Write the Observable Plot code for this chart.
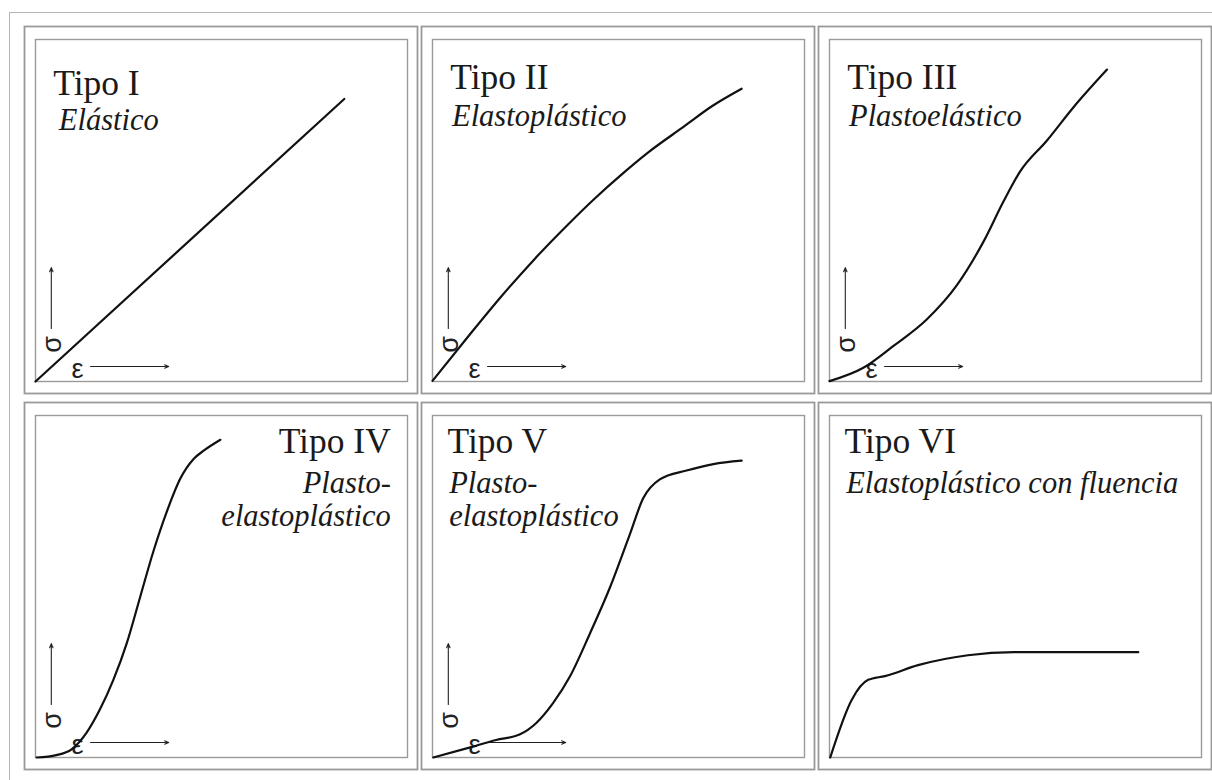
<!DOCTYPE html>
<html>
<head>
<meta charset="utf-8">
<script src="https://cdn.jsdelivr.net/npm/d3@7"></script>
<script src="https://cdn.jsdelivr.net/npm/@observablehq/plot@0.6"></script>
<style>
  html, body { margin: 0; padding: 0; background: #fff; overflow: hidden; }
  #page { position: relative; width: 1212px; height: 780px; }
  #chart svg { display: block; }
  /* light page border that runs off the right and bottom edges */
  #marco {
    position: absolute; left: 9px; top: 11.5px; width: 1400px; height: 1000px;
    border-left: 1.5px solid #b3b3b3; border-top: 1.5px solid #b3b3b3;
    pointer-events: none;
  }
</style>
</head>
<body>
<div id="page"><div id="chart"></div><div id="marco"></div></div>
<script>
// Panel titles and behaviour names
const tipos = ["Tipo I", "Tipo II", "Tipo III", "Tipo IV", "Tipo V", "Tipo VI"];
const comportamientos = [
  "Elástico",
  "Elastoplástico",
  "Plastoelástico",
  "Plasto-\nelastoplástico",
  "Plasto-\nelastoplástico",
  "Elastoplástico con fluencia"
];

// Stress–strain curves, strain (ε) and stress (σ) in % of the panel range
const deformacionI   = [0, 83.0];
const esfuerzoI      = [0, 82.6];

const deformacionII  = [0, 9.7, 18.6, 27.6, 36.5, 43.7, 50.8, 58.0, 67.9, 75.0, 83.1];
const esfuerzoII     = [0.2, 13.3, 25.0, 36.0, 46.0, 53.6, 60.5, 67.0, 74.8, 80.4, 85.6];

const deformacionIII = [0, 9.1, 17.2, 26.2, 34.2, 41.4, 46.8, 51.3, 58.4, 65.6, 74.6];
const esfuerzoIII    = [0.1, 4.0, 10.4, 18.2, 28.1, 40.9, 52.7, 61.5, 70.4, 80.2, 91.2];

const deformacionIV  = [0.3, 5.6, 9.7, 13.7, 17.3, 20.9, 24.5, 28.1, 31.7, 35.3, 38.9, 42.5, 45.2, 49.7];
const esfuerzoIV     = [0, 0.7, 2.4, 7.2, 14.0, 22.6, 33.3, 46.8, 60.3, 71.9, 81.5, 87.3, 89.7, 92.9];

const deformacionV   = [0.2, 9.9, 17.1, 23.4, 27.9, 32.4, 36.9, 42.3, 47.7, 53.0, 56.6, 61.1, 68.3, 75.5, 83.1];
const esfuerzoV      = [0, 2.9, 5.1, 6.7, 10.1, 15.9, 23.6, 36.2, 49.7, 65.1, 75.7, 81.3, 83.9, 85.8, 86.8];

const deformacionVI  = [0.2, 6.0, 10.4, 14.9, 23.8, 37.2, 49.6, 83.0];
const esfuerzoVI     = [0, 16.9, 22.7, 23.8, 27.0, 29.9, 30.8, 30.8];

const deformaciones = [deformacionI, deformacionII, deformacionIII, deformacionIV, deformacionV, deformacionVI];
const esfuerzos     = [esfuerzoI, esfuerzoII, esfuerzoIII, esfuerzoIV, esfuerzoV, esfuerzoVI];

// Long table for the line mark: one row per point, with its facet cell
const curvas = deformaciones.flatMap((xs, p) =>
  xs.map((e, k) => ({panel: p, col: p % 3, fila: Math.floor(p / 3), e, s: esfuerzos[p][k]}))
);

const paneles = tipos.map((tipo, p) => ({
  panel: p, col: p % 3, fila: Math.floor(p / 3), tipo, comp: comportamientos[p]
}));
const sel = (...ids) => paneles.filter(d => ids.includes(d.panel));
const conEjes = sel(0, 1, 2, 3, 4);

const fc = {fx: "col", fy: "fila"};
const serif = {fontFamily: "'Liberation Serif', 'Times New Roman', serif", fill: "#1a1a1a"};
const titulo = {...fc, ...serif, text: "tipo", fontSize: 35.5, lineAnchor: "bottom"};
const subtitulo = {...fc, ...serif, text: "comp", fontSize: 30.5, fontStyle: "italic"};
const sans = {...fc, fontFamily: "'Liberation Sans', Arial, sans-serif", fontSize: 27, fill: "#222",
  frameAnchor: "bottom-left", textAnchor: "middle", lineAnchor: "middle"};
const flecha = {...fc, stroke: "#222", strokeWidth: 1.1, headLength: 6, headAngle: 45};

const chart = Plot.plot({
  width: 1212,
  height: 780,
  marginLeft: 35,
  marginRight: 11,
  marginTop: 39,
  marginBottom: 22,
  fx: {domain: [0, 1, 2], paddingInner: 0.0642, paddingOuter: 0, axis: null},
  fy: {domain: [0, 1], paddingInner: 0.0903, paddingOuter: 0, axis: null},
  x: {domain: [0, 100], axis: null},
  y: {domain: [0, 100], axis: null},
  marks: [
    // double panel border
    Plot.frame({stroke: "#999", strokeWidth: 1.8, insetLeft: -11, insetRight: -10, insetTop: -13, insetBottom: -12}),
    Plot.frame({stroke: "#9a9a9a", strokeWidth: 1.4}),

    // σ / ε direction hints
    Plot.arrow(conEjes, {...flecha, x1: 4.25, x2: 4.25, y1: 15.5, y2: 33.3}),
    Plot.arrow(conEjes, {...flecha, x1: 14.8, x2: 35.8, y1: 4.4, y2: 4.4}),
    Plot.text(conEjes, {...sans, text: () => "σ", dx: 16.7, dy: -37, rotate: -90}),
    Plot.text(conEjes, {...sans, text: () => "ε", dx: 42, dy: -12}),

    // curves
    Plot.line(curvas, {...fc, x: "e", y: "s", z: "panel", curve: "monotone-x",
      stroke: "#111", strokeWidth: 2.2, strokeLinejoin: "round", strokeLinecap: "round"}),

    // titles
    Plot.text(sel(0), {...titulo, frameAnchor: "top-left", textAnchor: "start", dx: 17.7, dy: 55}),
    Plot.text(sel(1, 2), {...titulo, frameAnchor: "top-left", textAnchor: "start", dx: 17.7, dy: 49.3}),
    Plot.text(sel(4, 5), {...titulo, frameAnchor: "top-left", textAnchor: "start", dx: 15, dy: 37.8}),
    Plot.text(sel(3), {...titulo, frameAnchor: "top-right", textAnchor: "end", dx: -16.7, dy: 37.8}),

    // behaviour names
    Plot.text(sel(0), {...subtitulo, frameAnchor: "top-left", textAnchor: "start", lineAnchor: "bottom", dx: 23.3, dy: 90.5}),
    Plot.text(sel(1, 2), {...subtitulo, frameAnchor: "top-left", textAnchor: "start", lineAnchor: "bottom", dx: 19.5, dy: 86}),
    Plot.text(sel(4, 5), {...subtitulo, frameAnchor: "top-left", textAnchor: "start", lineAnchor: "top", lineHeight: 1.1, dx: 16.7, dy: 53.3}),
    Plot.text(sel(3), {...subtitulo, frameAnchor: "top-right", textAnchor: "end", lineAnchor: "top", lineHeight: 1.1, dx: -16.7, dy: 53.3})
  ]
});

document.getElementById("chart").appendChild(chart);
</script>
</body>
</html>
